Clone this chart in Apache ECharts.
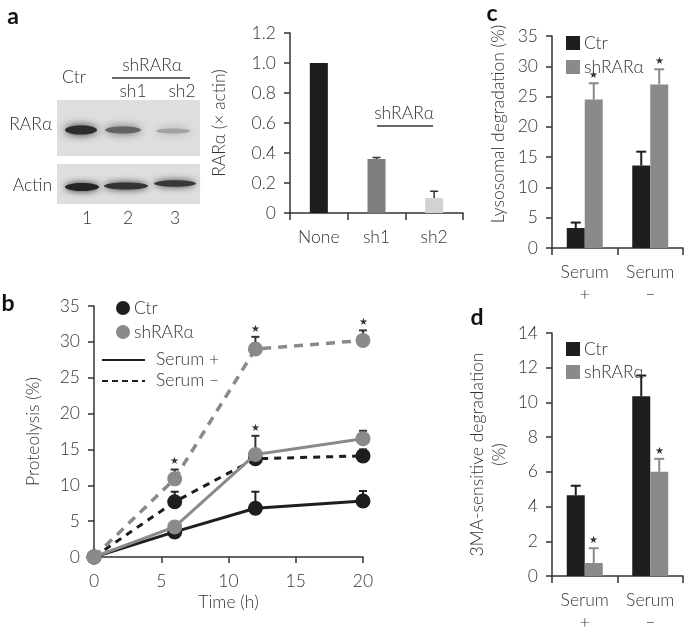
<!DOCTYPE html>
<html><head><meta charset="utf-8">
<script src="https://cdn.jsdelivr.net/npm/echarts@6/dist/echarts.min.js"></script>
<style>html,body{margin:0;padding:0;background:#fff}#c{width:685px;height:633px}</style>
</head><body><div id="c"></div>
<script>
// ---------- data ----------
const aCategories = ['None', 'sh1', 'sh2'];
const aValues = [1.0, 0.36, 0.10];
const aErrors = [0, 0.01, 0.045];

const bTime = [0, 6, 12, 20];
const bCtrSerumPlus = [0, 3.5, 6.8, 7.8];
const bCtrSerumPlusErr = [0, 0, 2.3, 1.4];
const bShSerumPlus = [0, 4.2, 14.3, 16.5];
const bShSerumPlusErr = [0, 0, 2.6, 1.1];
const bShSerumPlusStar = [0, 0, 1, 0];
const bCtrSerumMinus = [0, 7.7, 13.7, 14.1];
const bCtrSerumMinusErr = [0, 1.4, 0, 0.9];
const bShSerumMinus = [0, 10.9, 29.0, 30.2];
const bShSerumMinusErr = [0, 1.3, 1.7, 1.4];
const bShSerumMinusStar = [0, 1, 1, 1];

const cdCategories = ['Serum\n+', 'Serum\n–'];
const cCtr = [3.3, 13.6];
const cCtrErr = [0.9, 2.3];
const cSh = [24.5, 27.0];
const cShErr = [2.7, 2.5];
const cShStar = [1, 1];
const dCtr = [4.65, 10.35];
const dCtrErr = [0.55, 1.2];
const dSh = [0.75, 6.0];
const dShErr = [0.85, 0.75];
const dShStar = [1, 1];

const aTicks = [0, 1.2, 0.2];
const bXTicks = [0, 20, 5];
const bYTicks = [0, 35, 5];
const cTicks = [0, 35, 5];
const dTicks = [0, 14, 2];

// ---------- style ----------
const FONT = 'Lato, "Open Sans", sans-serif';
const FS = 17.5;
const TXT = '#333';
const BLACK = '#1e1e1e';
const GRAY = '#8a8a8a';
const LIGHT = '#d2d2d2';

const axisLine = {show: true, lineStyle: {color: '#333', width: 1.5}};
const axisTick = {show: true, length: 6, lineStyle: {color: '#333', width: 1.5}};
const lbl = (extra) => Object.assign({color: TXT, fontSize: FS, fontFamily: FONT, fontWeight: 300}, extra || {});

function errRender(offsetPx, color, lw, cap) {
  return function (params, api) {
    const x = api.value(0), v = api.value(1), e = api.value(2), star = api.value(3);
    const base = api.coord([x, v]);
    const top = api.coord([x, v + e]);
    const cx = base[0] + offsetPx;
    const children = [];
    if (e > 0) {
      children.push({type: 'line', shape: {x1: cx, y1: base[1], x2: cx, y2: top[1]}, style: {stroke: color, lineWidth: lw}});
      children.push({type: 'line', shape: {x1: cx - cap, y1: top[1], x2: cx + cap, y2: top[1]}, style: {stroke: color, lineWidth: lw}});
    }
    if (star) {
      children.push({type: 'text', style: {text: '★', x: cx, y: top[1] - 3, align: 'center', verticalAlign: 'bottom', fontSize: 10, fill: '#333'}});
    }
    return {type: 'group', children: children};
  };
}
function errData(xs, vals, errs, stars) {
  return vals.map((v, i) => [xs[i], v, errs[i], stars ? stars[i] : 0]);
}
const idx = (arr) => arr.map((_, i) => i);

const chart = echarts.init(document.getElementById('c'), null, {renderer: 'canvas'});

// ---------- graphic (blot, annotations, legend of b) ----------
const g = [];
function txt(x, y, s, opt) {
  g.push({type: 'text', x: x, y: y, style: Object.assign({text: s, fill: TXT, font: '300 ' + FS + 'px ' + FONT, align: 'center', verticalAlign: 'middle'}, opt || {})});
}
function hline(x1, x2, y, opt) {
  g.push({type: 'line', shape: {x1: x1, y1: y, x2: x2, y2: y}, style: Object.assign({stroke: '#333', lineWidth: 1.5}, opt || {})});
}
// panel letters
txt(13, 17, 'a', {font: 'bold 23px ' + FONT, fill: '#111'});
txt(8, 304, 'b', {font: 'bold 23px ' + FONT, fill: '#111'});
txt(492, 14, 'c', {font: 'bold 23px ' + FONT, fill: '#111'});
txt(477, 318, 'd', {font: 'bold 23px ' + FONT, fill: '#111'});
// blot frames
g.push({type: 'rect', shape: {x: 57, y: 100, width: 143, height: 56}, style: {fill: '#dedede'}});
g.push({type: 'rect', shape: {x: 57, y: 164, width: 143, height: 40}, style: {fill: '#dedede'}});
// RARa bands
g.push({type: 'ellipse', shape: {cx: 81, cy: 130, rx: 16, ry: 4.5}, style: {fill: '#2c2c2c', shadowBlur: 9, shadowColor: '#2c2c2c'}});
g.push({type: 'ellipse', shape: {cx: 123, cy: 130, rx: 18, ry: 3.5}, style: {fill: '#636363', shadowBlur: 9, shadowColor: '#636363'}});
g.push({type: 'ellipse', shape: {cx: 173, cy: 131, rx: 17, ry: 2.5}, style: {fill: '#a2a2a2', shadowBlur: 8, shadowColor: '#a2a2a2'}});
// actin bands
g.push({type: 'ellipse', shape: {cx: 82, cy: 187, rx: 17, ry: 4}, style: {fill: '#242424', shadowBlur: 7, shadowColor: '#242424'}});
g.push({type: 'ellipse', shape: {cx: 126, cy: 186, rx: 22, ry: 3.5}, style: {fill: '#333', shadowBlur: 7, shadowColor: '#333'}});
g.push({type: 'ellipse', shape: {cx: 175, cy: 183.5, rx: 21, ry: 3.3}, style: {fill: '#383838', shadowBlur: 7, shadowColor: '#383838'}});
// blot labels
txt(74, 77, 'Ctr');
txt(152, 65, 'shRARα');
hline(112, 190, 78);
txt(133, 91, 'sh1');
txt(182, 91, 'sh2');
txt(52, 124, 'RARα', {align: 'right'});
txt(52, 185, 'Actin', {align: 'right'});
txt(87, 218, '1');
txt(128, 218, '2');
txt(175, 218, '3');
// a bar chart annotation
txt(404, 113, 'shRARα');
hline(377, 433, 126);
// b legend
g.push({type: 'circle', shape: {cx: 123, cy: 308, r: 7}, style: {fill: BLACK}});
g.push({type: 'circle', shape: {cx: 123, cy: 332, r: 7}, style: {fill: GRAY}});
txt(134, 308, 'Ctr', {align: 'left'});
txt(134, 332, 'shRARα', {align: 'left'});
hline(102, 145, 360, {stroke: BLACK, lineWidth: 2});
hline(102, 145, 381, {stroke: BLACK, lineWidth: 2, lineDash: [6, 4]});
txt(156, 359, 'Serum +', {align: 'left'});
txt(156, 380, 'Serum –', {align: 'left'});

function valAxis(grid, t, extra) {
  return Object.assign({
    type: 'value', gridIndex: grid, min: t[0], max: t[1], interval: t[2],
    axisLine: axisLine, axisTick: axisTick, splitLine: {show: false},
    axisLabel: lbl({margin: 14}), nameTextStyle: lbl()
  }, extra || {});
}
function catAxis(grid, data, extra) {
  return Object.assign({
    type: 'category', gridIndex: grid, data: data, boundaryGap: true,
    axisLine: axisLine, axisTick: Object.assign({}, axisTick, {alignWithLabel: false, length: 7}),
    splitLine: {show: false}, axisLabel: lbl({margin: 13, lineHeight: 22})
  }, extra || {});
}

const option = {
  animation: false,
  backgroundColor: '#fff',
  textStyle: {fontFamily: FONT},
  grid: [
    {left: 290, top: 33, width: 173, height: 180},
    {left: 94, top: 306, width: 269, height: 251},
    {left: 552, top: 36, width: 131, height: 212},
    {left: 552, top: 333, width: 131, height: 244}
  ],
  xAxis: [
    catAxis(0, aCategories),
    valAxis(1, bXTicks, {name: 'Time (h)', nameLocation: 'middle', nameGap: 36, axisLabel: lbl({margin: 15})}),
    catAxis(2, cdCategories),
    catAxis(3, cdCategories)
  ],
  yAxis: [
    valAxis(0, aTicks, {name: 'RARα (× actin)', nameLocation: 'middle', nameGap: 62,
      axisLabel: lbl({margin: 14, formatter: v => v === 0 ? '0' : v.toFixed(1)})}),
    valAxis(1, bYTicks, {name: 'Proteolysis (%)', nameLocation: 'middle', nameGap: 52}),
    valAxis(2, cTicks, {name: 'Lysosomal degradation (%)', nameLocation: 'middle', nameGap: 45,
      nameTextStyle: lbl({padding: [0, 0, 0, 36]})}),
    valAxis(3, dTicks, {name: '3MA-sensitive degradation\n(%)', nameLocation: 'middle', nameGap: 42,
      nameTextStyle: lbl({lineHeight: 22})})
  ],
  legend: [
    {data: ['Ctr', 'shRARα'], orient: 'vertical', left: 561, top: 29, icon: 'rect', itemWidth: 14, itemHeight: 14, itemGap: 6,
      textStyle: lbl({padding: [0, 0, 0, -1]})},
    {data: ['Ctr', 'shRARα'], orient: 'vertical', left: 561, top: 335, icon: 'rect', itemWidth: 14, itemHeight: 14, itemGap: 5,
      textStyle: lbl({padding: [0, 0, 0, -1]})}
  ],
  graphic: g,
  series: [
    // a
    {type: 'bar', xAxisIndex: 0, yAxisIndex: 0, barWidth: 18,
      data: aValues.map((v, i) => ({value: v, itemStyle: {color: [BLACK, '#7e7e7e', LIGHT][i]}}))},
    {type: 'custom', xAxisIndex: 0, yAxisIndex: 0, renderItem: errRender(0, '#333', 1.5, 4),
      data: errData(idx(aCategories), aValues, aErrors), z: 3},
    // b error bars
    {type: 'custom', xAxisIndex: 1, yAxisIndex: 1, renderItem: errRender(0, '#222', 2, 4), z: 1,
      data: errData(bTime, bCtrSerumPlus, bCtrSerumPlusErr)},
    {type: 'custom', xAxisIndex: 1, yAxisIndex: 1, renderItem: errRender(0, '#222', 2, 4), z: 1,
      data: errData(bTime, bCtrSerumMinus, bCtrSerumMinusErr)},
    {type: 'custom', xAxisIndex: 1, yAxisIndex: 1, renderItem: errRender(0, '#333', 2, 4), z: 1,
      data: errData(bTime, bShSerumPlus, bShSerumPlusErr, bShSerumPlusStar)},
    {type: 'custom', xAxisIndex: 1, yAxisIndex: 1, renderItem: errRender(0, '#333', 2, 4), z: 1,
      data: errData(bTime, bShSerumMinus, bShSerumMinusErr, bShSerumMinusStar)},
    // b lines
    {type: 'line', name: 'Ctr, Serum +', xAxisIndex: 1, yAxisIndex: 1, z: 2, symbol: 'circle', symbolSize: 15,
      data: bTime.map((t, i) => [t, bCtrSerumPlus[i]]), itemStyle: {color: BLACK}, lineStyle: {color: BLACK, width: 3}},
    {type: 'line', name: 'Ctr, Serum –', xAxisIndex: 1, yAxisIndex: 1, z: 2, symbol: 'circle', symbolSize: 15,
      data: bTime.map((t, i) => [t, bCtrSerumMinus[i]]), itemStyle: {color: BLACK}, lineStyle: {color: BLACK, width: 3, type: [7, 6]}},
    {type: 'line', name: 'shRARα, Serum +', xAxisIndex: 1, yAxisIndex: 1, z: 3, symbol: 'circle', symbolSize: 15,
      data: bTime.map((t, i) => [t, bShSerumPlus[i]]), itemStyle: {color: GRAY}, lineStyle: {color: GRAY, width: 3}},
    {type: 'line', name: 'shRARα, Serum –', xAxisIndex: 1, yAxisIndex: 1, z: 3, symbol: 'circle', symbolSize: 15,
      data: bTime.map((t, i) => [t, bShSerumMinus[i]]), itemStyle: {color: GRAY}, lineStyle: {color: GRAY, width: 3.5, type: [9, 7]}},
    // c
    {type: 'bar', name: 'Ctr', xAxisIndex: 2, yAxisIndex: 2, barWidth: 18, barGap: '0%', data: cCtr, itemStyle: {color: BLACK}},
    {type: 'bar', name: 'shRARα', xAxisIndex: 2, yAxisIndex: 2, barWidth: 18, barGap: '0%', data: cSh, itemStyle: {color: GRAY}},
    {type: 'custom', xAxisIndex: 2, yAxisIndex: 2, renderItem: errRender(-9, BLACK, 2, 5), z: 3,
      data: errData(idx(cdCategories), cCtr, cCtrErr)},
    {type: 'custom', xAxisIndex: 2, yAxisIndex: 2, renderItem: errRender(9, GRAY, 2, 5), z: 3,
      data: errData(idx(cdCategories), cSh, cShErr, cShStar)},
    // d
    {type: 'bar', name: 'Ctr', xAxisIndex: 3, yAxisIndex: 3, barWidth: 18, barGap: '0%', data: dCtr, itemStyle: {color: BLACK}},
    {type: 'bar', name: 'shRARα', xAxisIndex: 3, yAxisIndex: 3, barWidth: 18, barGap: '0%', data: dSh, itemStyle: {color: GRAY}},
    {type: 'custom', xAxisIndex: 3, yAxisIndex: 3, renderItem: errRender(-9, BLACK, 2, 5), z: 3,
      data: errData(idx(cdCategories), dCtr, dCtrErr)},
    {type: 'custom', xAxisIndex: 3, yAxisIndex: 3, renderItem: errRender(9, GRAY, 2, 5), z: 3,
      data: errData(idx(cdCategories), dSh, dShErr, dShStar)}
  ]
};
chart.setOption(option);
</script>
</body></html>
